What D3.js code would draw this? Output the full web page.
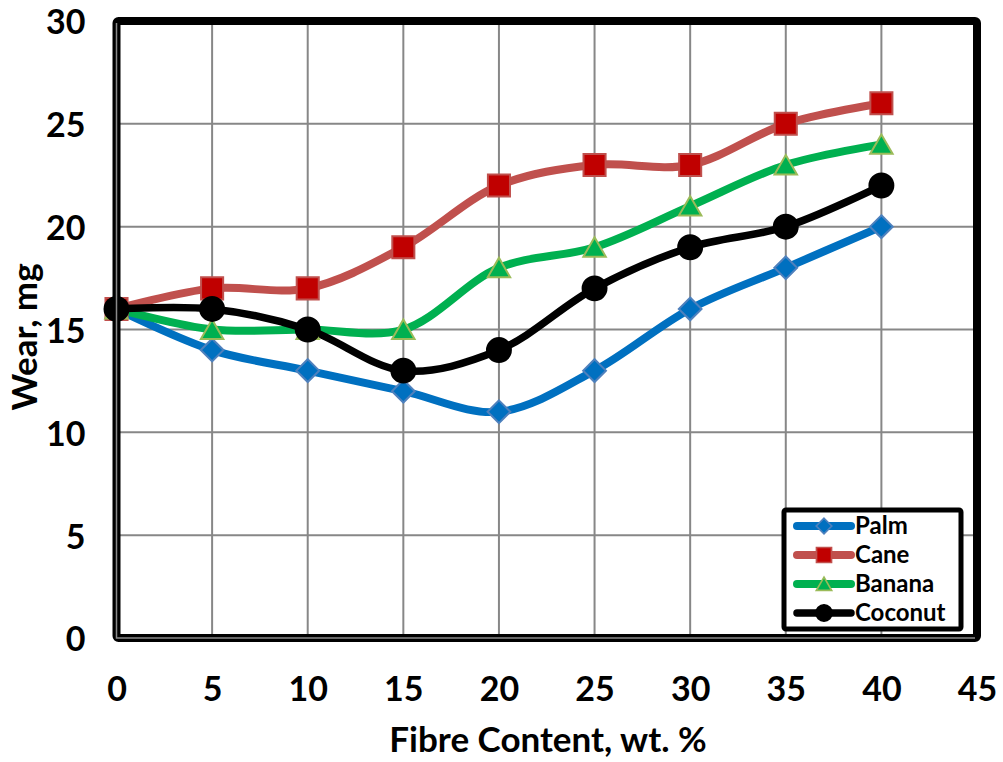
<!DOCTYPE html>
<html><head><meta charset="utf-8">
<script src="https://cdn.jsdelivr.net/npm/d3@7"></script>
<style>body{margin:0;background:#fff}svg{display:block;font-family:Lato,"Open Sans",sans-serif;font-weight:bold}</style>
</head><body><svg id="c" width="1003" height="762"></svg>
<script>
const fibre = [0,5,10,15,20,25,30,35,40];
const palm = [16,14,13,12,11,13,16,18,20];
const cane = [16,17,17,19,22,23,23,25,26];
const banana = [16,15,15,15,18,19,21,23,24];
const coconut = [16,16,15,13,14,17,19,20,22];
const xTicks = [0,5,10,15,20,25,30,35,40,45];
const yTicks = [0,5,10,15,20,25,30];
const seriesNames = ["Palm","Cane","Banana","Coconut"];

const series = [
  {name:seriesNames[0], vals:palm, line:"#0070C0", fill:"#0070C0", stroke:"#4F81BD", shape:"diamond", lw:8},
  {name:seriesNames[1], vals:cane, line:"#C0504D", fill:"#C00000", stroke:"#C0504D", shape:"square", lw:8},
  {name:seriesNames[2], vals:banana, line:"#00B050", fill:"#00B050", stroke:"#9BBB59", shape:"triangle", lw:8},
  {name:seriesNames[3], vals:coconut, line:"#000000", fill:"#000000", stroke:"#000000", shape:"circle", lw:7.5}
];

const svg = d3.select("#c");
const L=116.5, R=977, T=21, B=638;
const x = d3.scaleLinear().domain([0,45]).range([L,R]);
const y = d3.scaleLinear().domain([0,30]).range([B,T]);

// grid
svg.append("g").selectAll("line").data(xTicks.slice(1,-1)).join("line")
  .attr("x1",d=>x(d)).attr("x2",d=>x(d)).attr("y1",T).attr("y2",B)
  .attr("stroke","#878787").attr("stroke-width",2);
svg.append("g").selectAll("line").data(yTicks.slice(1,-1)).join("line")
  .attr("x1",L).attr("x2",R).attr("y1",d=>y(d)).attr("y2",d=>y(d))
  .attr("stroke","#878787").attr("stroke-width",2);

// axes labels via d3 axes
const xAxis = svg.append("g").attr("transform",`translate(0,${B})`)
  .call(d3.axisBottom(x).tickValues(xTicks).tickSize(0).tickPadding(39));
const yAxis = svg.append("g").attr("transform",`translate(${L},0)`)
  .call(d3.axisLeft(y).tickValues(yTicks).tickSize(0).tickPadding(31));
[xAxis,yAxis].forEach(a=>{
  a.select(".domain").remove();
  a.selectAll("text").attr("font-size",34).attr("font-weight","bold").attr("fill","#000")
    .attr("font-family","Lato, sans-serif");
});
yAxis.selectAll("text").attr("dy","0.38em");

// lines
const line = d3.line().x((d,i)=>x(fibre[i])).y(d=>y(d)).curve(d3.curveCatmullRom.alpha(0.5));
const sym = {
  diamond: d3.symbol().type(d3.symbolDiamond2).size(330),
  square: d3.symbol().type(d3.symbolSquare2).size(620),
  triangle: d3.symbol().type(d3.symbolTriangle2).size(360),
  circle: d3.symbol().type(d3.symbolCircle).size(450)
};
series.forEach(s=>{
  svg.append("path").attr("d",line(s.vals)).attr("fill","none")
    .attr("stroke",s.line).attr("stroke-width",s.lw).attr("stroke-linecap","round").attr("stroke-linejoin","round");
});
series.forEach(s=>{
  svg.append("g").selectAll("path").data(s.vals).join("path")
    .attr("transform",(d,i)=>`translate(${x(fibre[i])},${y(d)+(s.shape==="triangle"?3:0)})`)
    .attr("d",sym[s.shape]).attr("fill",s.fill).attr("stroke",s.stroke).attr("stroke-width",2);
});

// frame
svg.append("rect").attr("x",L).attr("y",T).attr("width",R-L).attr("height",B-T)
  .attr("fill","none").attr("stroke","#000").attr("stroke-width",8).attr("rx",2);
svg.append("path").attr("d",`M${L},${T+2}V${B}H${R-2}`).attr("fill","none").attr("stroke","#8a8a8a").attr("stroke-width",1.5);

// axis titles
svg.append("text").attr("x",548).attr("y",752).attr("text-anchor","middle")
  .attr("font-size",35).text("Fibre Content, wt. %");
svg.append("text").attr("transform","translate(37,337) rotate(-90)").attr("text-anchor","middle")
  .attr("font-size",35).text("Wear, mg");

// legend
const lg = svg.append("g");
lg.append("rect").attr("x",784).attr("y",510).attr("width",177).attr("height",119)
  .attr("fill","#fff").attr("stroke","#000").attr("stroke-width",5).attr("rx",2);
series.forEach((s,i)=>{
  const yy = 526 + i*29;
  lg.append("line").attr("x1",797).attr("x2",851).attr("y1",yy).attr("y2",yy)
    .attr("stroke",s.line).attr("stroke-width",s.lw).attr("stroke-linecap","round");
  lg.append("path").attr("transform",`translate(824,${yy+(s.shape==="triangle"?2:0)}) scale(0.68)`)
    .attr("d",sym[s.shape]).attr("fill",s.fill).attr("stroke",s.stroke).attr("stroke-width",2.5);
  lg.append("text").attr("x",855).attr("y",yy+8).attr("font-size",24).text(s.name);
});
</script></body></html>
